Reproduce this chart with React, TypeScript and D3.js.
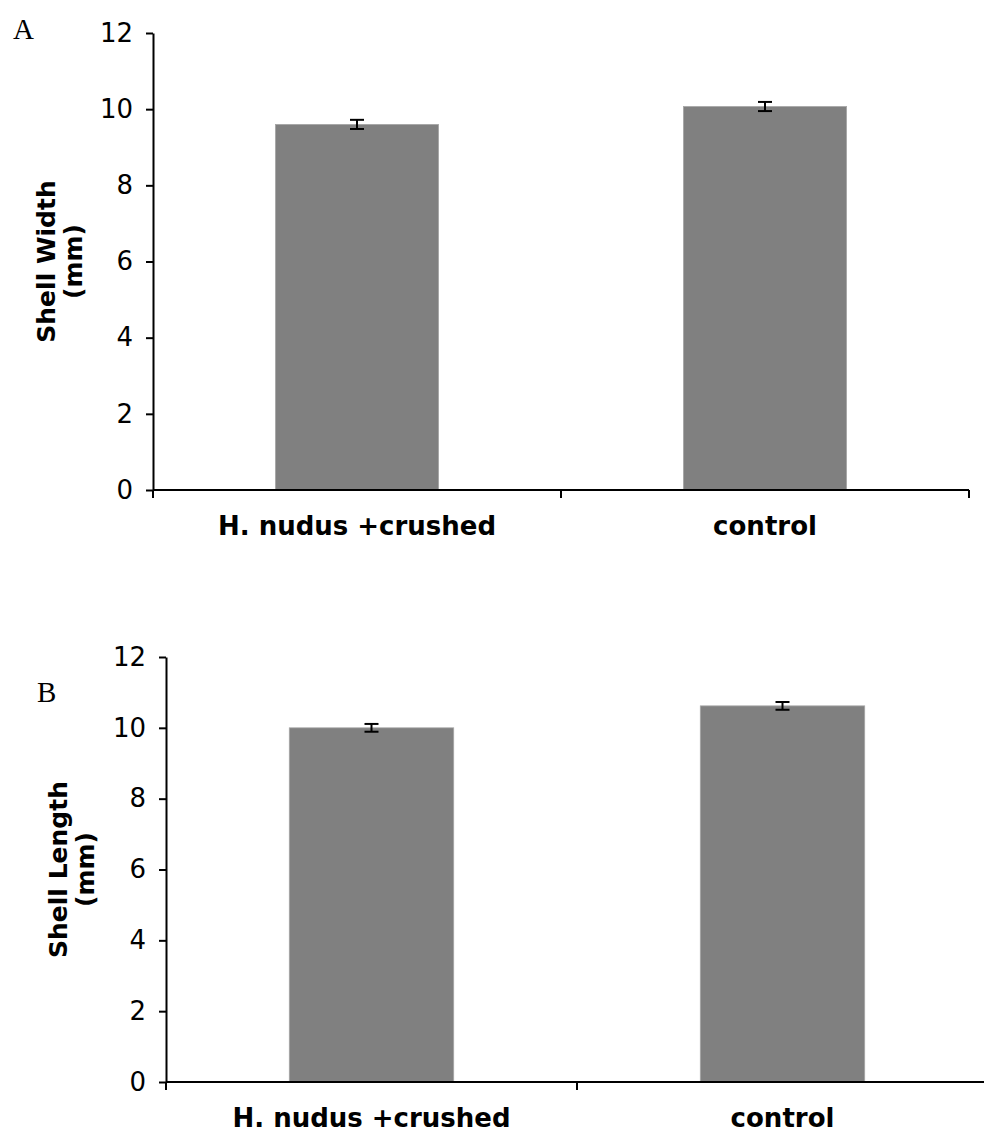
import React, { useEffect, useRef } from 'react';
import * as d3 from 'd3';

const categories = ['H. nudus +crushed', 'control'];
const widthValues = [9.6, 10.07];
const widthErrors = [0.12, 0.12];
const lengthValues = [10.0, 10.62];
const lengthErrors = [0.11, 0.11];
const yTicks = [0, 2, 4, 6, 8, 10, 12];

const FONT = 'DejaVu Sans, Verdana, sans-serif';

const drawPanel = (svg, opts) => {
  const { left, right, top, bottom, values, errors, label1, label2, letter, letterX, letterY, labelX } = opts;
  const g = svg.append('g');

  const y = d3.scaleLinear().domain([0, 12]).range([bottom, top]);
  const x = d3.scaleBand().domain(categories).range([left, right]).paddingInner(0).paddingOuter(0);
  const bw = x.bandwidth() * 0.4;

  // bars
  g.selectAll('rect.bar')
    .data(values)
    .enter()
    .append('rect')
    .attr('x', (d, i) => x(categories[i]) + x.bandwidth() / 2 - bw / 2)
    .attr('y', d => y(d))
    .attr('width', bw)
    .attr('height', d => bottom - y(d))
    .attr('fill', '#808080')
    .attr('stroke', '#a6a6a6')
    .attr('stroke-width', 0.8);

  // error bars
  values.forEach((v, i) => {
    const cx = x(categories[i]) + x.bandwidth() / 2;
    const e = errors[i];
    g.append('line').attr('x1', cx).attr('x2', cx).attr('y1', y(v + e)).attr('y2', y(v - e))
      .attr('stroke', '#000').attr('stroke-width', 2);
    [v + e, v - e].forEach(yy => {
      g.append('line').attr('x1', cx - 7).attr('x2', cx + 7).attr('y1', y(yy)).attr('y2', y(yy))
        .attr('stroke', '#000').attr('stroke-width', 2);
    });
  });

  // y axis
  const yAxis = g.append('g')
    .attr('transform', `translate(${left},0)`)
    .call(d3.axisLeft(y).tickValues(yTicks).tickSize(7).tickSizeOuter(0).tickPadding(13));
  yAxis.select('.domain').attr('stroke-width', 2);
  yAxis.selectAll('.tick line').attr('stroke-width', 2);
  yAxis.selectAll('text').attr('font-family', FONT).attr('font-size', 26).attr('fill', '#000');

  // x axis
  const xAxis = g.append('g').attr('transform', `translate(0,${bottom})`);
  xAxis.append('line').attr('x1', left).attr('x2', right).attr('y1', 0).attr('y2', 0)
    .attr('stroke', '#000').attr('stroke-width', 2);
  [left, x(categories[1]), right].forEach(t => {
    xAxis.append('line').attr('x1', t).attr('x2', t).attr('y1', 0).attr('y2', 8)
      .attr('stroke', '#000').attr('stroke-width', 2);
  });
  categories.forEach(c => {
    xAxis.append('text')
      .attr('x', x(c) + x.bandwidth() / 2)
      .attr('y', 45)
      .attr('text-anchor', 'middle')
      .attr('font-family', FONT)
      .attr('font-weight', 'bold')
      .attr('font-size', 26)
      .text(c);
  });

  // y label
  const cy = (top + bottom) / 2;
  [label1, label2].forEach((t, i) => {
    g.append('text')
      .attr('transform', `translate(${labelX + i * 27},${cy}) rotate(-90)`)
      .attr('text-anchor', 'middle')
      .attr('font-family', FONT)
      .attr('font-weight', 'bold')
      .attr('font-size', 25)
      .text(t);
  });

  g.append('text')
    .attr('x', letterX)
    .attr('y', letterY)
    .attr('font-family', 'Liberation Serif, Times New Roman, serif')
    .attr('font-size', 29)
    .text(letter);
};

const App = () => {
  const ref = useRef(null);

  useEffect(() => {
    const svg = d3.select(ref.current);
    svg.selectAll('*').remove();

    drawPanel(svg, {
      left: 153, right: 969, top: 33, bottom: 490,
      values: widthValues, errors: widthErrors,
      label1: 'Shell Width', label2: '(mm)',
      letter: 'A', letterX: 13, letterY: 39, labelX: 55,
    });

    drawPanel(svg, {
      left: 166, right: 988, top: 657, bottom: 1082,
      values: lengthValues, errors: lengthErrors,
      label1: 'Shell Length', label2: '(mm)',
      letter: 'B', letterX: 37, letterY: 702, labelX: 67,
    });
  }, []);

  return (
    <svg
      ref={ref}
      width={984}
      height={1137}
      style={{ position: 'absolute', left: 0, top: 0, background: '#fff' }}
    />
  );
};

export default App;
